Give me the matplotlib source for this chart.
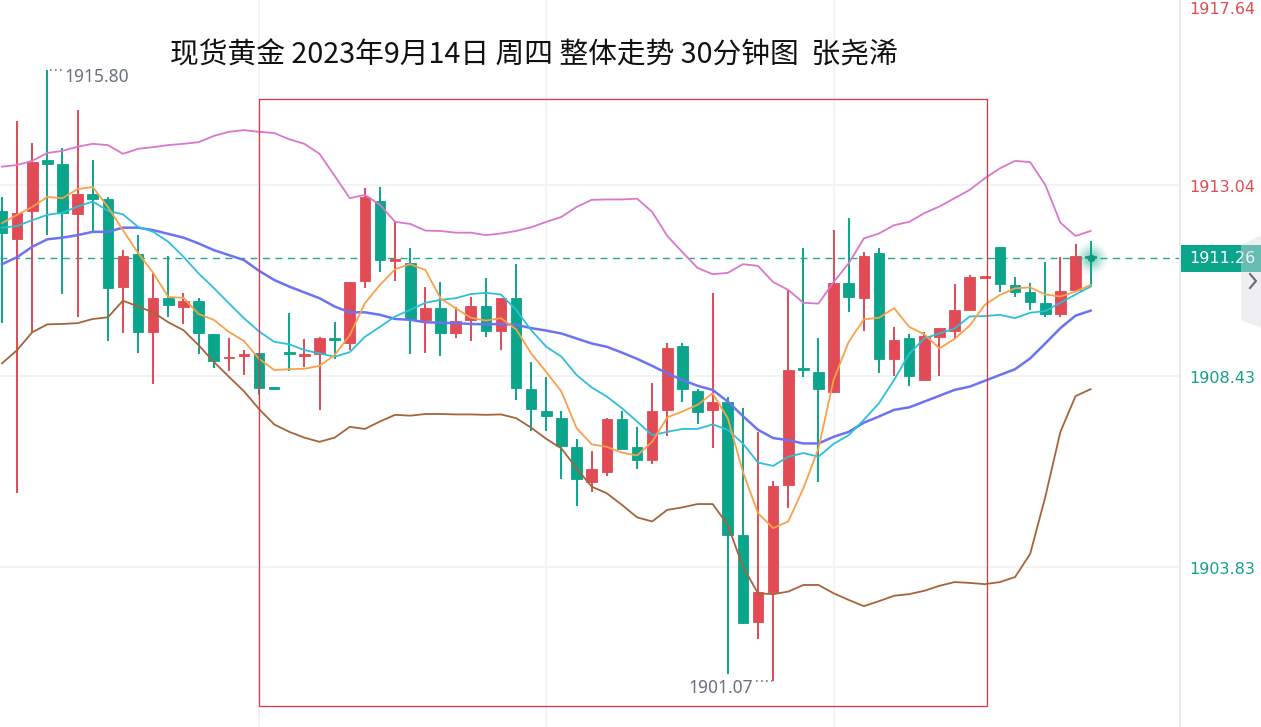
import matplotlib
matplotlib.use("Agg")
import matplotlib.pyplot as plt
import numpy as np
from matplotlib.patches import Rectangle, Polygon
from matplotlib.transforms import blended_transform_factory

plt.rcParams['font.family'] = ['Noto Sans CJK SC', 'DejaVu Sans']

# ---------------- data ----------------
opens = [1912.41, 1911.73, 1912.41, 1913.63, 1913.54, 1912.33, 1912.81, 1912.69, 1910.57, 1911.37,
         1909.49, 1910.31, 1910.09, 1910.24, 1909.44, 1908.86, 1908.91, 1908.98, 1908.14, 1909.01,
         1908.91, 1908.96, 1909.35, 1909.23, 1910.72, 1912.65, 1911.20, 1911.15, 1909.78, 1910.07,
         1909.47, 1909.78, 1910.12, 1909.51, 1910.31, 1908.12, 1907.59, 1907.42, 1906.72, 1905.88,
         1906.12, 1907.39, 1906.72, 1906.41, 1907.61, 1909.15, 1908.07, 1907.61, 1907.80, 1904.60,
         1902.50, 1903.23, 1905.80, 1908.62, 1908.53, 1908.04, 1910.67, 1910.31, 1911.39, 1908.84,
         1909.35, 1908.33, 1909.37, 1909.51, 1910.02, 1910.79, 1911.54, 1910.62, 1910.45, 1910.19,
         1909.92, 1910.50, 1911.32]
highs = [1912.74, 1914.57, 1914.04, 1915.80, 1913.92, 1914.84, 1913.63, 1912.74, 1911.47, 1911.83,
         1910.91, 1911.32, 1910.43, 1910.31, 1909.44, 1909.35, 1909.06, 1908.98, 1908.14, 1909.95,
         1909.32, 1909.37, 1909.73, 1910.70, 1912.96, 1912.98, 1912.14, 1911.51, 1910.57, 1910.70,
         1910.09, 1910.33, 1910.79, 1910.31, 1911.13, 1908.77, 1908.41, 1907.59, 1906.91, 1906.62,
         1907.42, 1907.59, 1907.20, 1908.26, 1909.23, 1909.23, 1908.12, 1910.43, 1907.92, 1907.66,
         1907.08, 1905.90, 1910.50, 1911.51, 1909.35, 1911.95, 1912.24, 1911.42, 1911.51, 1909.61,
         1909.44, 1909.49, 1909.59, 1910.65, 1910.86, 1910.82, 1911.54, 1910.82, 1910.67, 1911.18,
         1911.30, 1911.61, 1911.68]
lows = [1909.71, 1905.61, 1909.49, 1911.83, 1910.41, 1909.85, 1911.90, 1909.27, 1909.47, 1908.98,
        1908.24, 1909.85, 1909.68, 1908.96, 1908.62, 1908.55, 1908.45, 1907.97, 1908.12, 1908.55,
        1908.65, 1907.61, 1908.84, 1909.06, 1910.55, 1910.94, 1910.72, 1908.96, 1908.98, 1908.91,
        1909.35, 1909.27, 1909.37, 1909.06, 1907.85, 1907.10, 1907.10, 1905.95, 1905.30, 1905.64,
        1906.02, 1906.67, 1906.19, 1906.31, 1906.98, 1907.80, 1907.27, 1906.70, 1901.25, 1902.45,
        1902.09, 1901.07, 1905.25, 1908.41, 1905.88, 1908.04, 1909.97, 1909.51, 1908.50, 1908.43,
        1908.19, 1908.33, 1908.43, 1909.32, 1910.02, 1910.79, 1910.45, 1910.33, 1910.02, 1909.85,
        1909.85, 1910.50, 1910.57]
closes = [1911.88, 1912.36, 1913.59, 1913.54, 1912.36, 1912.81, 1912.69, 1910.55, 1911.32, 1909.49,
          1910.31, 1910.14, 1910.24, 1909.47, 1908.79, 1908.89, 1908.96, 1908.14, 1908.12, 1908.96,
          1908.94, 1909.35, 1909.30, 1910.70, 1912.74, 1911.23, 1911.23, 1909.80, 1910.07, 1909.47,
          1909.76, 1910.12, 1909.51, 1910.31, 1908.14, 1907.63, 1907.47, 1906.74, 1905.95, 1906.19,
          1907.39, 1906.67, 1906.41, 1907.59, 1909.10, 1908.12, 1907.56, 1907.80, 1904.60, 1902.48,
          1903.23, 1905.78, 1908.57, 1908.57, 1908.12, 1910.67, 1910.33, 1911.32, 1908.84, 1909.30,
          1908.43, 1909.39, 1909.59, 1910.02, 1910.82, 1910.82, 1910.65, 1910.45, 1910.21, 1909.92,
          1910.48, 1911.32, 1911.26]

ma5 = [1912.11, 1912.31, 1912.50, 1912.74, 1912.71, 1912.93, 1912.98, 1912.50, 1911.94, 1911.39,
       1910.91, 1910.33, 1910.31, 1909.92, 1909.78, 1909.49, 1909.27, 1908.84, 1908.57, 1908.59,
       1908.60, 1908.67, 1908.93, 1909.41, 1910.18, 1910.62, 1911.00, 1911.12, 1910.98, 1910.30,
       1910.06, 1909.83, 1909.76, 1909.82, 1909.55, 1908.97, 1908.52, 1908.05, 1907.17, 1906.78,
       1906.72, 1906.58, 1906.51, 1906.84, 1907.43, 1907.57, 1907.73, 1908.01, 1907.41, 1906.12,
       1905.12, 1904.76, 1904.92, 1905.72, 1906.68, 1908.33, 1909.25, 1909.79, 1909.83, 1910.06,
       1909.61, 1909.43, 1909.09, 1909.32, 1909.64, 1910.14, 1910.38, 1910.54, 1910.56, 1910.39,
       1910.34, 1910.46, 1910.62]
ma10 = [1912.00, 1912.04, 1912.18, 1912.31, 1912.36, 1912.51, 1912.63, 1912.41, 1912.32, 1912.02,
        1911.90, 1911.66, 1911.30, 1910.90, 1910.55, 1910.18, 1909.82, 1909.50, 1909.25, 1909.19,
        1909.05, 1908.97, 1908.89, 1909.00, 1909.37, 1909.61, 1909.86, 1910.02, 1910.19, 1910.26,
        1910.30, 1910.40, 1910.43, 1910.39, 1910.02, 1909.53, 1909.13, 1908.89, 1908.45, 1908.15,
        1907.93, 1907.65, 1907.33, 1907.00, 1907.08, 1907.15, 1907.15, 1907.26, 1907.13, 1906.80,
        1906.34, 1906.26, 1906.48, 1906.57, 1906.48, 1906.79, 1907.00, 1907.37, 1907.77, 1908.33,
        1908.96, 1909.33, 1909.45, 1909.57, 1909.86, 1909.87, 1909.90, 1909.82, 1909.95, 1909.99,
        1910.19, 1910.39, 1910.58]
boll_mid = [1911.12, 1911.29, 1911.54, 1911.72, 1911.76, 1911.82, 1911.90, 1911.90, 1912.00, 1912.00,
            1911.94, 1911.85, 1911.76, 1911.62, 1911.46, 1911.34, 1911.22, 1910.96, 1910.74, 1910.58,
            1910.44, 1910.30, 1910.10, 1909.96, 1909.96, 1909.90, 1909.80, 1909.78, 1909.72, 1909.71,
            1909.70, 1909.68, 1909.67, 1909.68, 1909.66, 1909.58, 1909.52, 1909.45, 1909.33, 1909.21,
            1909.13, 1908.99, 1908.84, 1908.67, 1908.49, 1908.33, 1908.19, 1908.09, 1907.81, 1907.46,
            1907.13, 1906.93, 1906.88, 1906.80, 1906.80, 1906.96, 1907.08, 1907.30, 1907.45, 1907.61,
            1907.67, 1907.81, 1907.95, 1908.09, 1908.17, 1908.31, 1908.45, 1908.59, 1908.85, 1909.21,
            1909.58, 1909.88, 1910.00]
boll_up = [1913.47, 1913.51, 1913.61, 1913.80, 1913.85, 1913.95, 1914.02, 1913.99, 1913.78, 1913.90,
           1913.94, 1913.99, 1914.02, 1914.06, 1914.21, 1914.31, 1914.35, 1914.31, 1914.28, 1914.13,
           1914.02, 1913.78, 1913.25, 1912.71, 1912.79, 1912.55, 1912.14, 1912.09, 1911.93, 1911.92,
           1911.88, 1911.88, 1911.82, 1911.86, 1911.92, 1912.01, 1912.14, 1912.26, 1912.50, 1912.67,
           1912.68, 1912.68, 1912.70, 1912.38, 1911.80, 1911.41, 1911.03, 1910.88, 1910.91, 1911.12,
           1911.08, 1910.69, 1910.50, 1910.19, 1910.17, 1910.69, 1911.14, 1911.74, 1911.86, 1912.06,
           1912.14, 1912.35, 1912.51, 1912.71, 1912.91, 1913.19, 1913.43, 1913.61, 1913.58, 1913.03,
           1912.12, 1911.80, 1911.92]
boll_low = [1908.73, 1909.05, 1909.48, 1909.67, 1909.68, 1909.70, 1909.80, 1909.84, 1910.24, 1910.10,
            1909.96, 1909.72, 1909.53, 1909.17, 1908.77, 1908.41, 1908.06, 1907.63, 1907.26, 1907.08,
            1906.94, 1906.84, 1906.94, 1907.20, 1907.15, 1907.33, 1907.49, 1907.47, 1907.51, 1907.51,
            1907.50, 1907.50, 1907.49, 1907.50, 1907.41, 1907.18, 1906.91, 1906.68, 1906.20, 1905.76,
            1905.60, 1905.32, 1905.02, 1904.92, 1905.20, 1905.26, 1905.34, 1905.34, 1904.84, 1903.83,
            1903.19, 1903.17, 1903.23, 1903.39, 1903.39, 1903.19, 1903.03, 1902.88, 1903.00, 1903.13,
            1903.17, 1903.25, 1903.37, 1903.46, 1903.44, 1903.41, 1903.46, 1903.58, 1904.14, 1905.51,
            1907.08, 1907.94, 1908.11]

axis_prices = [1917.64, 1913.04, 1908.43, 1903.83]
axis_colors = ['#e04b55', '#e04b55', '#12a088', '#12a088']
last_price = 1911.26
high_label = "1915.80"
low_label = "1901.07"
title = "现货黄金 2023年9月14日 周四 整体走势 30分钟图  张尧浠"
time_grid_idx = [17, 36, 55]

# ---------------- style ----------------
UP = '#e04b55'
DOWN = '#0aa58a'
W, H = 1261, 727
PLOT_W = 1180
STEP = 15.12

fig = plt.figure(figsize=(W / 100, H / 100), dpi=100)
fig.patch.set_facecolor('white')
ax = fig.add_axes([0, 0, PLOT_W / W, 1])
ax.set_xlim(-2 / STEP, (PLOT_W - 2) / STEP)
ax.set_ylim(1899.968, 1917.486)
for s in ax.spines.values():
    s.set_visible(False)
ax.set_xticks([])
ax.set_yticks([])

# grid
for p in axis_prices:
    ax.axhline(p, color='#f1f1f4', lw=1.2, zorder=0)
for gi in time_grid_idx:
    ax.axvline(gi, color='#f1f1f4', lw=1.2, zorder=0)

o = np.array(opens); h = np.array(highs); l = np.array(lows); c = np.array(closes)
x = np.arange(len(o))
up = c > o
cols = np.where(up, UP, DOWN)

# wicks
ax.vlines(x, l, h, colors=cols, lw=1.4, zorder=3)
# bodies
body_low = np.minimum(o, c)
body_h = np.maximum(np.abs(c - o), 0.035)
ax.bar(x, body_h, bottom=body_low, width=0.7, color=cols, edgecolor=cols, lw=0.6, zorder=4)

# indicator lines
ax.plot(x, boll_up, color='#d977cd', lw=1.3, zorder=5)
ax.plot(x, boll_low, color='#a5643a', lw=1.3, zorder=5)
ax.plot(x, boll_mid, color='#6b73f2', lw=1.8, zorder=5)
ax.plot(x, ma10, color='#2cbfdc', lw=1.3, zorder=6)
ax.plot(x, ma5, color='#f8a14a', lw=1.3, zorder=6)

# last price dashed line
ax.axhline(last_price, color='#22a98f', lw=1.0, ls=(0, (5, 4)), zorder=2)

# glow at last candle
lx = x[-1]
for s_, a_ in [(520, 0.06), (380, 0.08), (260, 0.1), (160, 0.12), (90, 0.15)]:
    ax.scatter([lx], [last_price], s=s_, color='#13a88d', alpha=a_, lw=0, zorder=7)
ax.scatter([lx], [last_price], s=30, color='#0b9c82', lw=0, zorder=8)

# high / low annotations
ih = int(np.argmax(h))
il = int(np.argmin(l))
ax.plot([ih + 0.15, ih + 1.0], [h[ih], h[ih]], color='#6b7080', lw=1.2, ls=(0, (1, 2)), zorder=7)
ax.text(ih + 1.1, h[ih] + 0.05, high_label, color='#6b7080', fontsize=12.5,
        family=['Noto Sans', 'DejaVu Sans'], va='top', ha='left', zorder=7)
ax.plot([il - 1.1, il - 0.1], [l[il], l[il]], color='#6b7080', lw=1.2, ls=(0, (1, 2)), zorder=7)
ax.text(il - 1.3, l[il] + 0.05, low_label, color='#6b7080', fontsize=12.5,
        family=['Noto Sans', 'DejaVu Sans'], va='top', ha='right', zorder=7)

# red frame (figure pixel coords)
fig.patches.append(Rectangle((259 / W, 1 - 706 / H), (987 - 259) / W, (706 - 99) / H,
                             transform=fig.transFigure, fill=False, edgecolor='#e8343c',
                             lw=0.9, zorder=9))

# title
fig.text(534 / W, 1 - 56 / H, title, fontsize=20.7, color='#111111', ha='center', va='center',
         family=['Noto Sans CJK SC', 'DejaVu Sans'])

# right axis
fig.add_artist(plt.Line2D([PLOT_W / W, PLOT_W / W], [0, 1], transform=fig.transFigure,
                          color='#e9e9ee', lw=1.5))
tr = blended_transform_factory(fig.transFigure, ax.transData)
for p, col in zip(axis_prices, axis_colors):
    if p > ax.get_ylim()[1]:
        fig.text(1255 / W, 1 - 9 / H, f"{p:.2f}", color=col, fontsize=11.5,
                 family='DejaVu Sans', ha='right', va='center')
    else:
        ax.text(1255 / W, p - 0.07, f"{p:.2f}", color=col, fontsize=11.5, family='DejaVu Sans',
                ha='right', va='center', transform=tr, clip_on=False)

# last price box
box_h = 27 / H
yb = ax.transData.transform((0, last_price))[1] / H
fig.patches.append(Rectangle((1181 / W, yb - box_h / 2), 80 / W, box_h, transform=fig.transFigure,
                             facecolor='#0aa58a', edgecolor='none', zorder=9))
fig.text(1222 / W, yb, f"{last_price:.2f}", color='white', fontsize=11.5, family='DejaVu Sans',
         ha='center', va='center', zorder=10)
# side handle
poly = [(1241, 245), (1261, 235), (1261, 328), (1241, 320)]
fig.patches.append(Polygon([(px / W, 1 - py / H) for px, py in poly], closed=True,
                           transform=fig.transFigure, facecolor='#dcdce3', alpha=0.45,
                           edgecolor='none', zorder=11))
chev = [(1250, 274), (1256, 281), (1250, 288)]
fig.add_artist(plt.Line2D([px / W for px, py in chev], [1 - py / H for px, py in chev],
                          transform=fig.transFigure, color='#6a6a75', lw=1.5, zorder=12))

fig.savefig('out.png', dpi=100, facecolor='white')
